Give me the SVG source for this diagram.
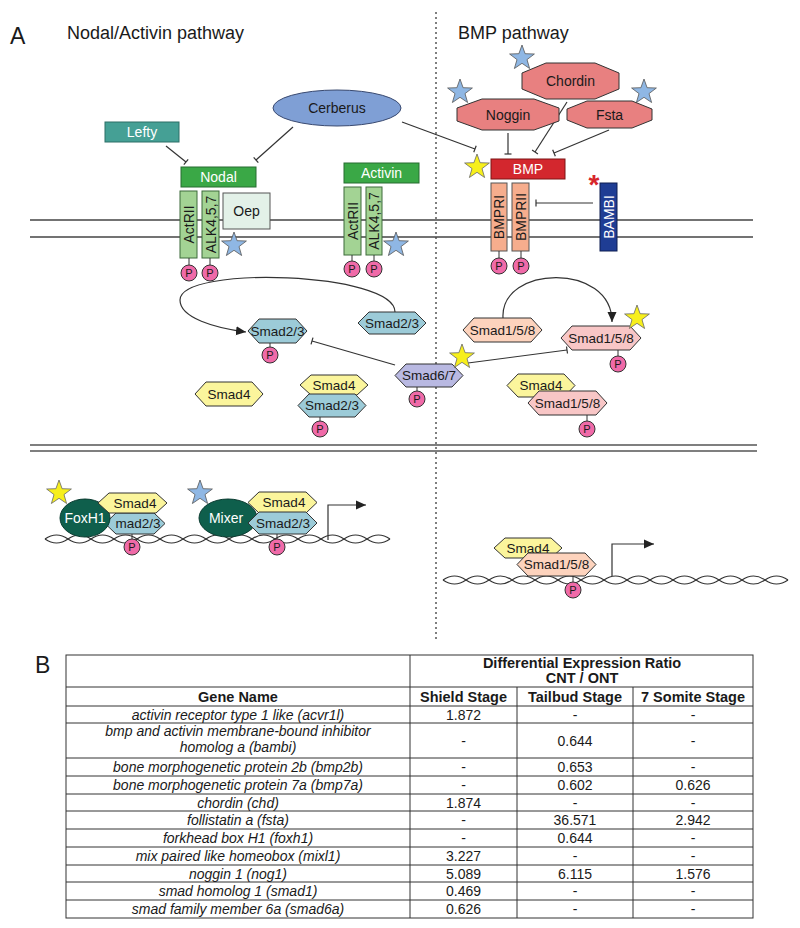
<svg xmlns="http://www.w3.org/2000/svg" width="800" height="928" viewBox="0 0 800 928">
<style>
text{font-family:"Liberation Sans",Arial,sans-serif;fill:#1a1a1a}
.title{font-size:18px}
.big{font-size:23px}
.lbl{font-size:14px;text-anchor:middle}
.w{fill:#fff}
.sm{font-size:13.5px;text-anchor:middle}
.pt{font-size:11px;text-anchor:middle}
.mem{stroke:#444;stroke-width:1.3;fill:none}
.nuc{stroke:#555;stroke-width:1.6;fill:none}
.edge{stroke:#333;stroke-width:1.2;fill:none}
.inh{marker-end:url(#tbar)}
.arr{marker-end:url(#arrow)}
.p{fill:#f06aa8;stroke:#333;stroke-width:1}
.stem{stroke:#333;stroke-width:1}
.s23{fill:#9ccbd8;stroke:#333;stroke-width:1}
.s4{fill:#fbf59c;stroke:#333;stroke-width:1}
.s158a{fill:#fdd3bd;stroke:#333;stroke-width:1}
.s158b{fill:#f8c6c6;stroke:#333;stroke-width:1}
.s67{fill:#b9b9e2;stroke:#333;stroke-width:1}
.rg{fill:#a3d394;stroke:#3d6b3b;stroke-width:1}
.lg{fill:#3aa846;stroke:#276c30;stroke-width:1}
.oct{fill:#e88080;stroke:#333;stroke-width:1}
.br{fill:#f6ad8d;stroke:#555;stroke-width:1}
.bst{fill:#8fb7e4;stroke:#555;stroke-width:0.8}
.yst{fill:#f7ef1c;stroke:#666;stroke-width:0.8}
.tf{fill:#0f5f4c;stroke:#0a3b30;stroke-width:1}
.dna{stroke:#333;stroke-width:1.2;fill:none}
.tb{stroke:#333;stroke-width:1;fill:none}
.th{font-size:14.5px;font-weight:bold;text-anchor:middle}
.tg{font-size:14px;font-style:italic;text-anchor:middle}
.tn{font-size:14px;text-anchor:middle}
</style>
<defs>
<marker id="tbar" markerUnits="userSpaceOnUse" markerWidth="4" markerHeight="10" refX="2" refY="5" orient="auto"><path d="M2,1.5 L2,8.5" stroke="#333" stroke-width="1.2" fill="none"/></marker>
<marker id="arrow" markerUnits="userSpaceOnUse" markerWidth="12" markerHeight="10" refX="10" refY="5" orient="auto"><path d="M0,0.5 L10,5 L0,9.5Z" fill="#222"/></marker>
<path id="star" d="M0,-13 L3.1,-4.3 L12.4,-4 L5,1.6 L7.6,10.5 L0,5.3 L-7.6,10.5 L-5,1.6 L-12.4,-4 L-3.1,-4.3Z"/>
</defs>
<rect x="0" y="0" width="800" height="928" fill="#fff"/>

<g id="titles">
<text class="big" x="10" y="44">A</text>
<text class="title" x="67" y="39">Nodal/Activin pathway</text>
<text class="title" x="458" y="39">BMP pathway</text>
<text class="big" x="35" y="673">B</text>
</g>

<g id="divider"><line x1="436" y1="12" x2="436" y2="640" stroke="#555" stroke-width="1.5" stroke-dasharray="2,3"/></g>

<g id="membranes">
<line class="mem" x1="30" y1="220" x2="753" y2="220"/>
<line class="mem" x1="30" y1="237" x2="753" y2="237"/>
<line class="nuc" x1="30" y1="445" x2="757" y2="445"/>
<line class="nuc" x1="30" y1="451" x2="757" y2="451"/>
</g>

<g id="dna">
<path class="dna" d="M45,539 q11.5,-8 23,0 t23,0 t23,0 t23,0 t23,0 t23,0 t23,0 t23,0 t23,0 t23,0 t23,0 t23,0 t23,0 t23,0 t23,0"/>
<path class="dna" d="M45,539 q11.5,8 23,0 t23,0 t23,0 t23,0 t23,0 t23,0 t23,0 t23,0 t23,0 t23,0 t23,0 t23,0 t23,0 t23,0 t23,0"/>
<path class="dna" d="M443,580 q11.5,-8 23,0 t23,0 t23,0 t23,0 t23,0 t23,0 t23,0 t23,0 t23,0 t23,0 t23,0 t23,0 t23,0 t23,0 t23,0"/>
<path class="dna" d="M443,580 q11.5,8 23,0 t23,0 t23,0 t23,0 t23,0 t23,0 t23,0 t23,0 t23,0 t23,0 t23,0 t23,0 t23,0 t23,0 t23,0"/>
</g>

<g id="connectors">
<line class="edge inh" x1="166" y1="146" x2="186" y2="162"/>
<line class="edge inh" x1="293" y1="127" x2="256" y2="160"/>
<line class="edge inh" x1="402" y1="122" x2="475" y2="149"/>
<line class="edge inh" x1="508" y1="133" x2="508" y2="154"/>
<line class="edge inh" x1="567" y1="102" x2="535" y2="152"/>
<line class="edge inh" x1="609" y1="130" x2="554" y2="153"/>
<line class="edge inh" x1="593" y1="203" x2="536" y2="203"/>
<line class="edge inh" x1="395" y1="365" x2="312" y2="341"/>
<line class="edge inh" x1="468" y1="363" x2="567" y2="350"/>
<path class="edge arr" d="M395,312 C395,272 180,265 180,300 C180,318 215,328 246,332"/>
<path class="edge arr" d="M503,318 C500,265 612,262 612,322"/>
<path class="edge arr" d="M328,540 L328,505 L366,505"/>
<path class="edge arr" d="M612,576 L612,544 L654,544"/>
</g>

<g id="lefty"><rect x="105" y="122" width="74" height="20" fill="#45a095" stroke="#2d6f66"/><text class="lbl w" x="142" y="137">Lefty</text></g>
<g id="cerberus"><ellipse cx="337" cy="108" rx="64" ry="18" fill="#7f9fd5" stroke="#3a4a70"/><text class="lbl" x="337" y="113">Cerberus</text></g>

<g id="nodal"><rect class="lg" x="181" y="167" width="75" height="20"/><text class="lbl w" x="218.5" y="182">Nodal</text></g>
<g id="actrii-nodal"><rect class="rg" x="180" y="191" width="17" height="67"/><text class="lbl" transform="translate(188.5,224.5) rotate(-90)" y="5">ActRII</text>
<line class="stem" x1="189" y1="258" x2="189" y2="265"/><circle class="p" cx="189" cy="273" r="8"/><text class="pt" x="189" y="277">P</text></g>
<g id="star-nodal"><use href="#star" class="bst" x="234" y="245"/></g>
<g id="alk-nodal"><rect class="rg" x="202" y="191" width="17" height="67"/><text class="lbl" transform="translate(210.5,224.5) rotate(-90)" y="5">ALK4,5,7</text>
<line class="stem" x1="210" y1="258" x2="210" y2="265"/><circle class="p" cx="210" cy="273" r="8"/><text class="pt" x="210" y="277">P</text></g>
<g id="oep"><rect x="223" y="193" width="47" height="36" fill="#e3f1e8" stroke="#555"/><text class="lbl" x="246.5" y="216">Oep</text></g>

<g id="activin"><rect class="lg" x="344" y="163" width="75" height="20"/><text class="lbl w" x="381.5" y="178">Activin</text></g>
<g id="actrii-activin"><rect class="rg" x="344" y="187" width="17" height="68"/><text class="lbl" transform="translate(352.5,221) rotate(-90)" y="5">ActRII</text>
<line class="stem" x1="352" y1="255" x2="352" y2="261"/><circle class="p" cx="352" cy="269" r="8"/><text class="pt" x="352" y="273">P</text></g>
<g id="star-activin"><use href="#star" class="bst" x="396" y="245"/></g>
<g id="alk-activin"><rect class="rg" x="366" y="187" width="16" height="68"/><text class="lbl" transform="translate(374,221) rotate(-90)" y="5">ALK4,5,7</text>
<line class="stem" x1="374" y1="255" x2="374" y2="261"/><circle class="p" cx="374" cy="269" r="8"/><text class="pt" x="374" y="273">P</text></g>

<g id="stars-bmp"><use href="#star" class="bst" x="522" y="58"/><use href="#star" class="bst" x="460" y="92"/><use href="#star" class="bst" x="644" y="92"/></g>
<g id="chordin"><polygon class="oct" points="546,63 595,63 619,73 619,89 595,99 546,99 522,89 522,73"/><text class="lbl" x="570.5" y="86">Chordin</text></g>
<g id="noggin"><polygon class="oct" points="482,99 534,99 559,108 559,121 534,130 482,130 457,121 457,108"/><text class="lbl" x="508" y="120">Noggin</text></g>
<g id="fsta"><polygon class="oct" points="587,101 632,101 652,109 652,120 632,128 587,128 567,120 567,109"/><text class="lbl" x="609.5" y="119.5">Fsta</text></g>
<g id="bmp"><use href="#star" class="yst" x="477" y="167"/><rect x="491" y="159" width="74" height="20" fill="#d3272e" stroke="#7c1515"/><text class="lbl w" x="528" y="174">BMP</text></g>
<g id="bmpri"><rect class="br" x="491" y="183" width="16" height="68"/><text class="lbl" transform="translate(499,217) rotate(-90)" y="5">BMPRI</text>
<line class="stem" x1="499" y1="251" x2="499" y2="258"/><circle class="p" cx="499" cy="266" r="8"/><text class="pt" x="499" y="270">P</text></g>
<g id="bmprii"><rect class="br" x="512" y="183" width="17" height="68"/><text class="lbl" transform="translate(520.5,217) rotate(-90)" y="5">BMPRII</text>
<line class="stem" x1="521" y1="251" x2="521" y2="258"/><circle class="p" cx="521" cy="266" r="8"/><text class="pt" x="521" y="270">P</text></g>
<g id="bambi"><rect x="600" y="183" width="17" height="68" fill="#1f3d94" stroke="#0e1f52"/><text class="lbl w" transform="translate(608.5,217) rotate(-90)" y="5">BAMBI</text>
<text x="594" y="194" font-size="28" font-weight="bold" text-anchor="middle" style="fill:#d7262b">*</text></g>

<g id="smad23-p">
<polygon class="s23" points="248,331 259,319 296,319 307,331 296,343 259,343"/><text class="sm" x="277.5" y="335.5">Smad2/3</text>
<line class="stem" x1="270" y1="343" x2="270" y2="347"/><circle class="p" cx="270" cy="355" r="8"/><text class="pt" x="270" y="359">P</text></g>
<g id="smad23"><polygon class="s23" points="358,323 369,312 415,312 426,323 415,334 369,334"/><text class="sm" x="392" y="327.5">Smad2/3</text></g>
<g id="smad4"><polygon class="s4" points="195,394 206,382 252,382 263,394 252,406 206,406"/><text class="sm" x="229" y="398.5">Smad4</text></g>
<g id="smad4-smad23">
<polygon class="s4" points="300,385 311,375 357,375 368,385 357,395 311,395"/><text class="sm" x="334" y="389.5">Smad4</text>
<polygon class="s23" points="298,405.5 309,394 355,394 366,405.5 355,417 309,417"/><text class="sm" x="332" y="410">Smad2/3</text>
<line class="stem" x1="320" y1="417" x2="320" y2="421"/><circle class="p" cx="320" cy="429" r="8"/><text class="pt" x="320" y="433">P</text></g>
<g id="smad67">
<polygon class="s67" points="395,375.5 406,364 452,364 463,375.5 452,387 406,387"/><text class="sm" x="429" y="380">Smad6/7</text>
<line class="stem" x1="417" y1="387" x2="417" y2="391"/><circle class="p" cx="417" cy="399" r="8"/><text class="pt" x="417" y="403">P</text>
<use href="#star" class="yst" x="462" y="357"/></g>
<g id="smad158"><polygon class="s158a" points="463,330 474,318 531,318 542,330 531,342 474,342"/><text class="sm" x="502.5" y="334.5">Smad1/5/8</text></g>
<g id="smad158-p">
<polygon class="s158b" points="561,338 572,326 630,326 641,338 630,350 572,350"/><text class="sm" x="601" y="342.5">Smad1/5/8</text>
<line class="stem" x1="618" y1="350" x2="618" y2="356"/><circle class="p" cx="618" cy="364" r="8"/><text class="pt" x="618" y="368">P</text>
<use href="#star" class="yst" x="637" y="318"/></g>
<g id="smad4-smad158">
<polygon class="s4" points="507,385.5 518,374 564,374 575,385.5 564,397 518,397"/><text class="sm" x="541" y="390">Smad4</text>
<polygon class="s158b" points="528,403 539,391 596,391 607,403 596,415 539,415"/><text class="sm" x="567.5" y="407.5">Smad1/5/8</text>
<line class="stem" x1="587" y1="415" x2="587" y2="421"/><circle class="p" cx="587" cy="429" r="8"/><text class="pt" x="587" y="433">P</text></g>

<g id="foxh1-complex">
<use href="#star" class="yst" x="59" y="493"/>
<polygon class="s23" points="105,523.5 116,513 154,513 165,523.5 154,534 116,534"/><text class="sm" x="138" y="528">mad2/3</text>
<line class="stem" x1="132" y1="534" x2="132" y2="539"/><circle class="p" cx="132" cy="547" r="8"/><text class="pt" x="132" y="551">P</text>
<ellipse class="tf" cx="85" cy="518" rx="25" ry="19"/><text class="lbl w" x="85" y="523">FoxH1</text>
<polygon class="s4" points="98,503 109,493 156,493 167,503 156,513 109,513"/><text class="sm" x="135" y="507.5">Smad4</text></g>
<g id="mixer-complex">
<use href="#star" class="bst" x="200" y="493"/>
<ellipse class="tf" cx="228" cy="518" rx="29" ry="19"/><text class="lbl w" x="226" y="523">Mixer</text>
<polygon class="s4" points="248,502.5 259,492 306,492 317,502.5 306,513 259,513"/><text class="sm" x="284" y="507">Smad4</text>
<polygon class="s23" points="248,523 259,512 306,512 317,523 306,534 259,534"/><text class="sm" x="283" y="527.5">Smad2/3</text>
<line class="stem" x1="277" y1="534" x2="277" y2="539"/><circle class="p" cx="277" cy="547" r="8"/><text class="pt" x="277" y="551">P</text></g>
<g id="bmp-nuclear-complex">
<polygon class="s4" points="494,548 505,538 551,538 562,548 551,558 505,558"/><text class="sm" x="528" y="552.5">Smad4</text>
<polygon class="s158a" points="517,564.5 528,553 585,553 596,564.5 585,576 528,576"/><text class="sm" x="556.5" y="569">Smad1/5/8</text>
<line class="stem" x1="573" y1="576" x2="573" y2="582"/><circle class="p" cx="573" cy="590" r="8"/><text class="pt" x="573" y="594">P</text></g>

<g id="table">
<rect class="tb" x="66" y="655" width="687" height="263"/>
<g class="tb">
<line x1="410" y1="655" x2="410" y2="918"/>
<line x1="517" y1="687" x2="517" y2="918"/>
<line x1="633" y1="687" x2="633" y2="918"/>
<line x1="66" y1="687" x2="753" y2="687"/>
<line x1="66" y1="706" x2="753" y2="706"/>
<line x1="66" y1="723" x2="753" y2="723"/>
<line x1="66" y1="758" x2="753" y2="758"/>
<line x1="66" y1="776" x2="753" y2="776"/>
<line x1="66" y1="794" x2="753" y2="794"/>
<line x1="66" y1="811" x2="753" y2="811"/>
<line x1="66" y1="829" x2="753" y2="829"/>
<line x1="66" y1="847" x2="753" y2="847"/>
<line x1="66" y1="865" x2="753" y2="865"/>
<line x1="66" y1="882" x2="753" y2="882"/>
<line x1="66" y1="900" x2="753" y2="900"/>
</g>
<text class="th" x="582" y="668">Differential Expression Ratio</text>
<text class="th" x="582" y="683">CNT / ONT</text>
<text class="th" x="238" y="701.5">Gene Name</text>
<text class="th" x="463.5" y="701.5">Shield Stage</text>
<text class="th" x="575" y="701.5">Tailbud Stage</text>
<text class="th" x="693" y="701.5">7 Somite Stage</text>

<text class="tg" x="238" y="719.5">activin receptor type 1 like (acvr1l)</text>
<text class="tn" x="463.5" y="719.5">1.872</text><text class="tn" x="575" y="719.5">-</text><text class="tn" x="693" y="719.5">-</text>

<text class="tg" x="238" y="736">bmp and activin membrane-bound inhibitor</text>
<text class="tg" x="238" y="752">homolog a (bambi)</text>
<text class="tn" x="463.5" y="745.5">-</text><text class="tn" x="575" y="745.5">0.644</text><text class="tn" x="693" y="745.5">-</text>

<text class="tg" x="238" y="772">bone morphogenetic protein 2b (bmp2b)</text>
<text class="tn" x="463.5" y="772">-</text><text class="tn" x="575" y="772">0.653</text><text class="tn" x="693" y="772">-</text>

<text class="tg" x="238" y="790">bone morphogenetic protein 7a (bmp7a)</text>
<text class="tn" x="463.5" y="790">-</text><text class="tn" x="575" y="790">0.602</text><text class="tn" x="693" y="790">0.626</text>

<text class="tg" x="238" y="807.5">chordin (chd)</text>
<text class="tn" x="463.5" y="807.5">1.874</text><text class="tn" x="575" y="807.5">-</text><text class="tn" x="693" y="807.5">-</text>

<text class="tg" x="238" y="825">follistatin a (fsta)</text>
<text class="tn" x="463.5" y="825">-</text><text class="tn" x="575" y="825">36.571</text><text class="tn" x="693" y="825">2.942</text>

<text class="tg" x="238" y="843">forkhead box H1 (foxh1)</text>
<text class="tn" x="463.5" y="843">-</text><text class="tn" x="575" y="843">0.644</text><text class="tn" x="693" y="843">-</text>

<text class="tg" x="238" y="861">mix paired like homeobox (mixl1)</text>
<text class="tn" x="463.5" y="861">3.227</text><text class="tn" x="575" y="861">-</text><text class="tn" x="693" y="861">-</text>

<text class="tg" x="238" y="878.5">noggin 1 (nog1)</text>
<text class="tn" x="463.5" y="878.5">5.089</text><text class="tn" x="575" y="878.5">6.115</text><text class="tn" x="693" y="878.5">1.576</text>

<text class="tg" x="238" y="896">smad homolog 1 (smad1)</text>
<text class="tn" x="463.5" y="896">0.469</text><text class="tn" x="575" y="896">-</text><text class="tn" x="693" y="896">-</text>

<text class="tg" x="238" y="914">smad family member 6a (smad6a)</text>
<text class="tn" x="463.5" y="914">0.626</text><text class="tn" x="575" y="914">-</text><text class="tn" x="693" y="914">-</text>
</g>
</svg>
